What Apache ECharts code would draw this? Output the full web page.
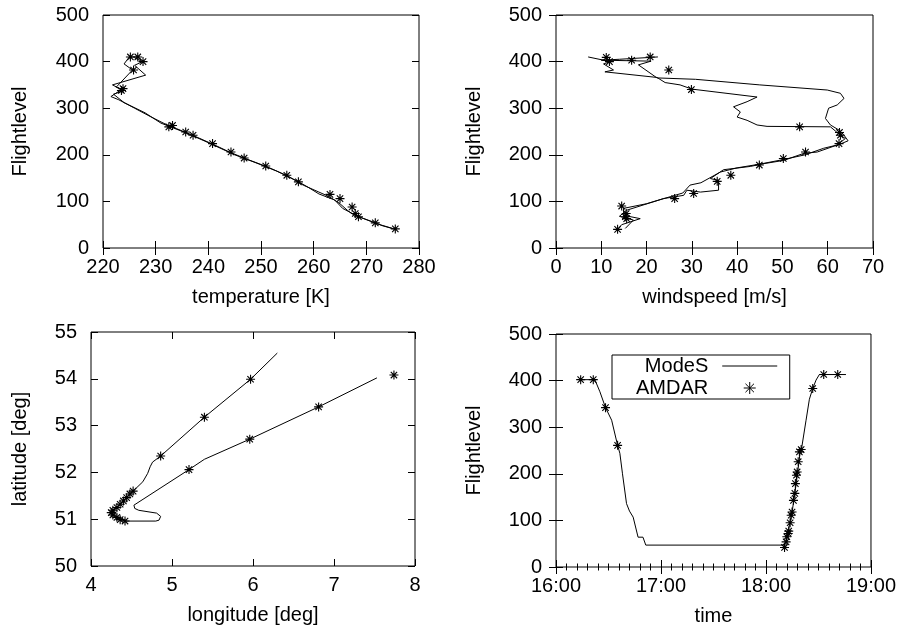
<!DOCTYPE html>
<html>
<head>
<meta charset="utf-8">
<script src="https://cdn.jsdelivr.net/npm/echarts@6/dist/echarts.min.js"></script>
<style>html,body{margin:0;padding:0;background:#fff}#c{width:899px;height:630px}</style>
</head>
<body>
<div id="c"></div>
<script>
// ---- Panel 1: temperature [K] vs flight level ----
const tempModeSA = [[275.5,40],[273,48],[271.5,55],[269,65],[267.5,72],[266.5,80],[265,95],[263,110],[261,120],[258,135],[255,155],[251,175],[247,192],[244,206],[241,222],[237,242],[234,256],[232,265],[229,282],[226,300],[223,318],[221.5,325],[223.5,340],[221.8,350],[228.1,371],[226,392],[227.5,400],[226,408]];
const tempModeSB = [[275,42],[272,52],[268,70],[265.5,85],[264,103],[261,116],[259,130],[257,143],[253,165],[249,183],[245,200],[240,226],[236,246],[231,268],[228,290],[224,312],[222,330],[224,338],[222.5,345],[225.6,382],[224,395],[225,410],[227,410]];
const tempAmdar = [[225.2,410],[226.6,410],[227.6,400],[225.8,382],[223.8,342],[223.5,338],[232.5,260],[233.2,263],[235.7,249],[237.1,242],[240.8,224],[244.3,206],[246.8,193],[250.9,176],[254.9,156],[257.1,142],[263.1,115],[265,106],[267.3,88],[267.9,74],[268.5,67],[271.7,54],[275.5,41]];

// ---- Panel 2: windspeed [m/s] vs flight level ----
const windModeSA = [[13.4,38],[14.5,50],[18.6,63],[15,70],[14.9,85],[20,95],[25.2,110],[28,118],[29.6,135],[32,140],[36.3,163],[40,172],[45,180],[50.3,190],[55,200],[59.1,214],[62.5,222],[64.5,230],[63.6,242],[62.5,253],[60.6,264],[59.5,278],[60.2,300],[62.1,307],[63.6,321],[62.8,332],[59.9,339],[45,350],[30.8,362],[22.3,365],[18.2,393],[21,401],[10,403],[14,405],[22.5,410]];
const windModeSB = [[15.3,42],[17.1,60],[14,68],[15.6,81],[23.7,106],[28.2,113],[28.9,124],[31.9,120],[35.9,124],[35.9,145],[34.1,149],[37,168],[42.9,175],[45.9,181],[50.3,188],[54.7,203],[57.7,206],[62.1,221],[63.9,235],[62.8,242],[60.6,260],[46.6,261],[44.4,264],[42.2,274],[40,281],[40.7,292],[39.2,303],[42.2,314],[44.4,324],[30,341],[27.4,350],[24.1,355],[22.3,366],[10.8,378],[12.7,382],[10.5,395],[12,400],[7.1,410]];
const windAmdar = [[11.1,409],[11.8,400],[16.7,403],[20.8,410],[24.9,382],[29.9,340],[53.8,260],[62.6,248],[62.8,242],[62.5,224],[55.1,206],[50.2,192],[44.9,178],[38.6,156],[35.6,143],[30.4,117],[26.2,106],[14.5,90],[15.5,74],[15.3,67],[15.6,63],[13.6,40]];

// ---- Panel 3: longitude [deg] vs latitude [deg] ----
const trackModeS = [[6.30,54.55],[5.97,53.99],[5.40,53.18],[4.86,52.35],[4.76,52.22],[4.73,52.12],[4.70,51.98],[4.64,51.80],[4.52,51.60],[4.25,51.14],[4.32,51.02],[4.42,50.96],[4.80,50.96],[4.84,50.98],[4.86,51.06],[4.81,51.13],[4.59,51.19],[4.54,51.23],[4.53,51.30],[5.21,52.06],[5.40,52.28],[5.96,52.71],[6.81,53.40],[7.53,54.02]];
const trackAmdar = [[5.97,53.99],[5.40,53.18],[4.86,52.35],[5.21,52.06],[5.96,52.71],[6.81,53.40],[7.74,54.08],[4.52,51.60],[4.48,51.54],[4.44,51.46],[4.40,51.39],[4.36,51.32],[4.32,51.25],[4.27,51.19],[4.25,51.14],[4.27,51.09],[4.32,51.04],[4.36,50.99],[4.42,50.96]];

// ---- Panel 4: time (minutes after 16:00) vs flight level ----
const timeTicks = ['16:00','17:00','18:00','19:00'];
const timeModeS = [[14.1,402],[22.2,402],[25.1,376],[28.3,342],[31.8,315],[35.2,261],[36.5,244],[38,200],[40.3,136],[42,120],[44.1,107],[46.9,64],[49.7,64],[51.3,47],[130.6,47],[132,62],[133.5,92],[135,120],[136.5,158],[138,200],[139.5,245],[140.5,258],[142.9,315],[144.8,360],[146.7,383],[148.6,401],[150.5,413],[165.7,413]];
const timeAmdar = [[14.1,402],[21.3,402],[28.3,342],[35.2,261],[130.6,42],[131.5,54],[131.9,65],[132.7,72],[133.0,77],[133.8,95],[134.4,111],[134.9,118],[135.7,143],[136.5,158],[136.8,179],[137.4,197],[137.8,204],[138.4,226],[139.1,247],[140.1,252],[146.7,383],[153,413],[161,413]];

const STAR = 'path://M5,0L5,10M0,5L10,5M1.46,1.46L8.54,8.54M8.54,1.46L1.46,8.54';
const FONT = 'Liberation Sans, Arial, sans-serif';
const FS = 20;

const grids = [
  {left:103, top:15, width:316, height:233},
  {left:556, top:15, width:317, height:233},
  {left:91, top:332, width:324, height:234},
  {left:556, top:334, width:316, height:233}
].map(g => Object.assign({show:true, borderColor:'#000', borderWidth:1, backgroundColor:'transparent', containLabel:false}, g));

const xSpec = [
  {min:220, max:280, interval:10, name:'temperature [K]'},
  {min:0, max:70, interval:10, name:'windspeed [m/s]'},
  {min:4, max:8, interval:1, name:'longitude [deg]'},
  {min:0, max:180, interval:60, name:'time', minor:true, fmt:v => timeTicks[Math.round(v/60)]}
];
const ySpec = [
  {min:0, max:500, interval:100, name:'Flightlevel', gap:73},
  {min:0, max:500, interval:100, name:'Flightlevel', gap:72},
  {min:50, max:55, interval:1, name:'latitude [deg]', gap:61},
  {min:0, max:500, interval:100, name:'Flightlevel', gap:72}
];

function axisBase(spec, i, mirror, pos) {
  const a = {
    type:'value', gridIndex:i, min:spec.min, max:spec.max, interval:spec.interval, position:pos,
    axisLine:{show:false},
    axisTick:{show:true, inside:true, length:7, lineStyle:{color:'#000', width:1}},
    splitLine:{show:false},
    axisLabel:{show:!mirror, color:'#000', fontSize:FS, fontFamily:FONT, margin: (pos==='left')?14:9, formatter: spec.fmt || (v => String(v))},
    minorTick:{show:!!spec.minor, splitNumber:10, length:3.5, lineStyle:{color:'#000', width:1}}
  };
  if (!mirror) {
    a.name = spec.name; a.nameLocation = 'middle';
    a.nameTextStyle = {color:'#000', fontSize:FS, fontFamily:FONT};
    a.nameGap = spec.gap || 39;
  }
  return a;
}
const xAxes = [], yAxes = [];
for (let i=0;i<4;i++) xAxes.push(axisBase(xSpec[i], i, false, 'bottom'));
for (let i=0;i<4;i++) xAxes.push(axisBase(xSpec[i], i, true, 'top'));
for (let i=0;i<4;i++) yAxes.push(axisBase(ySpec[i], i, false, 'left'));
for (let i=0;i<4;i++) yAxes.push(axisBase(ySpec[i], i, true, 'right'));

function lineS(data, i) {
  return {type:'line', name:'ModeS', xAxisIndex:i, yAxisIndex:i, data:data, symbol:'none', showSymbol:false,
    lineStyle:{color:'#000', width:1}, itemStyle:{color:'#000'}, animation:false, z:3};
}
function starS(data, i) {
  return {type:'scatter', name:'AMDAR', xAxisIndex:i, yAxisIndex:i, data:data, symbol:STAR, symbolSize:9,
    itemStyle:{color:'#000', borderColor:'#000', borderWidth:1.1, opacity:1}, animation:false, z:4};
}

const series = [
  lineS(tempModeSA,0), lineS(tempModeSB,0), starS(tempAmdar,0),
  lineS(windModeSA,1), lineS(windModeSB,1), starS(windAmdar,1),
  lineS(trackModeS,2), starS(trackAmdar,2),
  lineS(timeModeS,3), starS(timeAmdar,3)
];

const chart = echarts.init(document.getElementById('c'), null, {renderer:'canvas'});
chart.setOption({
  backgroundColor:'#fff',
  animation:false,
  grid:grids, xAxis:xAxes, yAxis:yAxes, series:series,
  legend:{
    orient:'vertical', align:'right', left:612, top:355,
    itemWidth:55, itemHeight:12, itemGap:2, padding:[1,12,1,24],
    borderColor:'#000', borderWidth:1, backgroundColor:'#fff', borderRadius:0,
    textStyle:{color:'#000', fontSize:FS, fontFamily:FONT, padding:[0,9,0,0], lineHeight:20},
    data:[
      {name:'ModeS', itemStyle:{opacity:0}, lineStyle:{color:'#000', width:1, opacity:1}},
      {name:'AMDAR', icon:STAR, itemStyle:{color:'#000', borderColor:'#000', borderWidth:1}}
    ]
  }
});
</script>
</body>
</html>
